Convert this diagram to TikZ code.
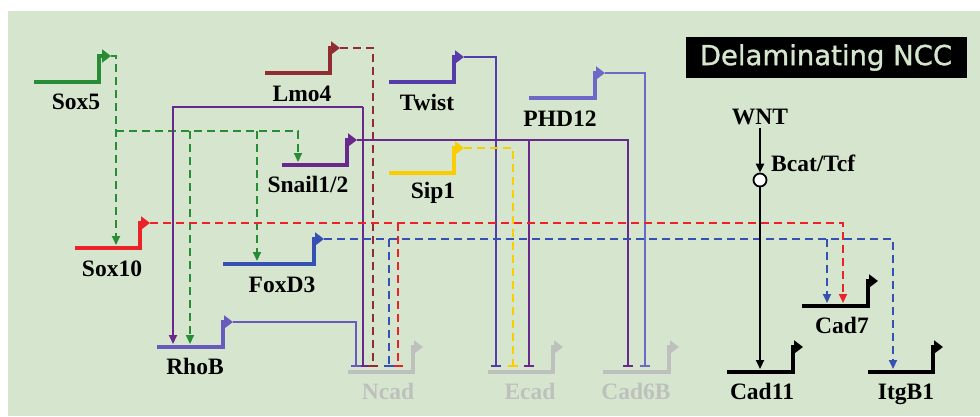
\documentclass[tikz,border=0pt]{standalone}
\usepackage{fontspec}
\setmainfont{Liberation Serif}
\newfontfamily\titlefont[FakeBold=1.2]{DejaVu Sans}
\usepackage{xcolor}
\usetikzlibrary{arrows.meta, positioning, calc}

\definecolor{bgGreen}{RGB}{214,230,206}
\definecolor{cSox5}{RGB}{40,140,55}
\definecolor{cLmo}{RGB}{145,45,50}
\definecolor{cTwist}{RGB}{85,60,170}
\definecolor{cSnail}{RGB}{105,40,140}
\definecolor{cSip}{RGB}{250,205,0}
\definecolor{cPhd}{RGB}{110,105,200}
\definecolor{cSox10}{RGB}{235,35,40}
\definecolor{cFox}{RGB}{55,80,180}
\definecolor{cRho}{RGB}{105,90,190}
\definecolor{cOff}{RGB}{190,192,190}

\begin{document}
\begin{tikzpicture}[x=1pt, y=-1pt,
        gene/.style={line width=4.5pt, -{Triangle[length=9pt,width=13pt]}},
        lbl/.style={font=\fontsize{23.5}{26}\selectfont\bfseries, anchor=base, inner sep=0pt},
        act/.style={line width=2.1pt, -{Triangle[length=9pt,width=8pt]}},
        rep/.style={line width=2.1pt, -{Bar[width=10pt,line width=1.8pt]}},
        dsh/.style={dash pattern=on 8pt off 5pt}
        ]

        %% Background
        \fill[white] (0,0) rectangle (980,416);
        \fill[bgGreen] (8,11) rectangle (980,416);
        \useasboundingbox (0,0) rectangle (980,416);

        %% Title
        \node[fill=black, text=bgGreen, font=\titlefont\fontsize{27.5}{30}\selectfont,
            minimum width=281pt, minimum height=41pt, inner sep=0pt] (title) at (826,57.5) {Delaminating NCC};

        %% Regulator genes
        \draw[gene, cSox5]  (34,82)  -- (99,82)  -- (99,56)  -- (111,56) coordinate (sox5o);
        \node[lbl] (sox5) at (76,109) {Sox5};
        \draw[gene, cLmo]   (265,73) -- (330,73) -- (330,48) -- (340,48) coordinate (lmo4o);
        \node[lbl] (lmo4) at (302,101) {Lmo4};
        \draw[gene, cTwist] (389,82) -- (454,82) -- (454,57) -- (464,57) coordinate (twisto);
        \node[lbl] (twist) at (427,110) {Twist};
        \draw[gene, cSnail] (282,165) -- (347,165) -- (347,140) -- (357,140) coordinate (snailo);
        \node[lbl] (snail) at (308,192) {Snail1/2};
        \draw[gene, cSip]   (389,173) -- (454,173) -- (454,148) -- (464,148) coordinate (sip1o);
        \node[lbl] (sip1) at (433,198) {Sip1};
        \draw[gene, cPhd]   (529,98) -- (595,98) -- (595,73) -- (605,73) coordinate (phdo);
        \node[lbl] (phd12) at (560,126) {PHD12};
        \draw[gene, cSox10] (75,248) -- (140,248) -- (140,223) -- (150,223) coordinate (sox10o);
        \node[lbl] (sox10) at (112,276) {Sox10};
        \draw[gene, cFox]   (223,264) -- (314,264) -- (314,239) -- (324,239) coordinate (foxo);
        \node[lbl] (foxd3) at (282,292) {FoxD3};
        \draw[gene, cRho]   (157,347) -- (223,347) -- (223,322) -- (233,322) coordinate (rhoo);
        \node[lbl] (rhob) at (195,374) {RhoB};

        %% Target genes
        \draw[gene, cOff] (348,372) -- (413,372) -- (413,347) -- (423,347);
        \node[lbl, cOff] (ncad) at (388,399) {Ncad};
        \draw[gene, cOff] (488,372) -- (553,372) -- (553,347) -- (563,347);
        \node[lbl, cOff] (ecad) at (530,399) {Ecad};
        \draw[gene, cOff] (603,372) -- (669,372) -- (669,347) -- (679,347);
        \node[lbl, cOff] (cad6b) at (636,399) {Cad6B};
        \draw[gene, black] (727,372) -- (793,372) -- (793,347) -- (803,347);
        \node[lbl] (cad11) at (762,399) {Cad11};
        \draw[gene, black] (802,306) -- (868,306) -- (868,281) -- (878,281);
        \node[lbl] (cad7) at (842,333) {Cad7};
        \draw[gene, black] (868,372) -- (933,372) -- (933,347) -- (943,347);
        \node[lbl] (itgb1) at (906,399) {ItgB1};

        %% Input sites
        \coordinate (sox10i) at (116,245);
        \coordinate (snaili) at (298,162);
        \coordinate (foxi)   at (257,261);
        \coordinate (rhobi1) at (173,344);
        \coordinate (rhobi2) at (190,344);
        \coordinate (ncada)  at (356,367);
        \coordinate (ncadb)  at (363,367);
        \coordinate (ncadc)  at (373,367);
        \coordinate (ncadd)  at (389,367);
        \coordinate (ncade)  at (398,367);
        \coordinate (ecada)  at (496,367);
        \coordinate (ecadb)  at (513,367);
        \coordinate (ecadc)  at (529,367);
        \coordinate (cadba)  at (628,367);
        \coordinate (cadbb)  at (645,367);
        \coordinate (cad7a)  at (827,303);
        \coordinate (cad7b)  at (843,303);
        \coordinate (itgi)   at (893,369);
        \coordinate (cad11i) at (760,369);
        \coordinate (s5j)    at (116,131);
        \coordinate (snj)    at (363,107);

        %% Sox5
        \draw[act, dsh, cSox5] (sox5o) -| (sox10i);
        \draw[act, dsh, cSox5] (s5j) -| (snaili);
        \draw[act, dsh, cSox5] (s5j -| rhobi2) -- (rhobi2);
        \draw[act, dsh, cSox5] (s5j -| foxi) -- (foxi);

        %% Lmo4, Twist, Sip1, PHD12
        \draw[rep, dsh, cLmo] (lmo4o) -| (ncadc);
        \draw[rep, cTwist] (twisto) -| (ecada);
        \draw[rep, dsh, cSip] (sip1o) -| (ecadb);
        \draw[rep, cPhd] (phdo) -| (cadbb);

        %% Snail1/2
        \draw[rep, cSnail] (snailo) -| (cadba);
        \draw[rep, cSnail] (snailo -| ecadc) -- (ecadc);
        \draw[rep, cSnail] (snj) -- (ncadb);
        \draw[act, cSnail] (snj) -| (rhobi1);

        %% Sox10
        \draw[act, dsh, cSox10] (sox10o) -| (cad7b);
        \draw[rep, dsh, cSox10] (sox10o -| ncade) -- (ncade);

        %% FoxD3
        \draw[act, dsh, cFox] (foxo) -| (itgi);
        \draw[act, dsh, cFox] (foxo -| cad7a) -- (cad7a);
        \draw[rep, dsh, cFox] (foxo -| ncadd) -- (ncadd);

        %% RhoB
        \draw[rep, cRho] (rhoo) -| (ncada);

        %% WNT
        \node[lbl] (wnt) at (760,124) {WNT};
        \node[circle, draw, fill=white, line width=1.8pt, minimum size=13pt, inner sep=0pt] (bc) at (760,180) {};
        \node[lbl, anchor=base west] (bcat) at (771,171) {Bcat/Tcf};
        \draw[act, black] (760,128) -- (bc);
        \draw[act, black] (bc) -- (cad11i);

    \end{tikzpicture}
\end{document}
